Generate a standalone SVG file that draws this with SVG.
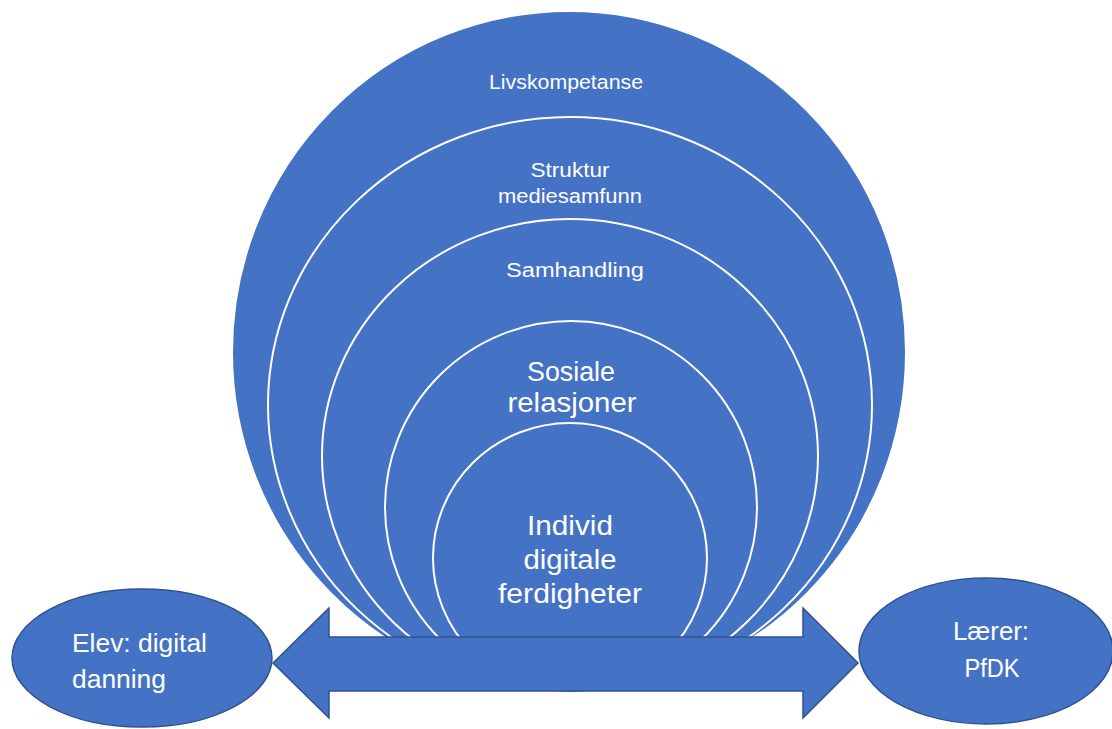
<svg xmlns="http://www.w3.org/2000/svg" width="1112" height="729" viewBox="0 0 1112 729">
<style>
.ring{fill:#4472C4;stroke:#FFFFFF;stroke-width:2}
.shape{fill:#4472C4;stroke:#2F528F;stroke-width:1.5}
.t{font-family:"Liberation Sans",Arial,sans-serif;fill:#FFFFFF;text-anchor:middle}
.s{font-size:20px}
.l{font-size:27px}
.e{font-size:25px}
</style>
<rect width="1112" height="729" fill="#FFFFFF"/>
<g id="ring-livskompetanse">
<ellipse class="ring" cx="569" cy="352" rx="337" ry="341"/>
<text class="t s" x="566" y="89" textLength="154" lengthAdjust="spacingAndGlyphs">Livskompetanse</text>
</g>
<g id="ring-struktur">
<ellipse class="ring" cx="570" cy="405" rx="302" ry="288"/>
<text class="t s" x="570" y="177" textLength="79" lengthAdjust="spacingAndGlyphs">Struktur</text>
<text class="t s" x="570" y="203" textLength="144" lengthAdjust="spacingAndGlyphs">mediesamfunn</text>
</g>
<g id="ring-samhandling">
<ellipse class="ring" cx="570" cy="456" rx="248" ry="237"/>
<text class="t s" x="575" y="277" textLength="138" lengthAdjust="spacingAndGlyphs">Samhandling</text>
</g>
<g id="ring-sosiale">
<ellipse class="ring" cx="571" cy="507" rx="186" ry="186"/>
<text class="t l" x="571" y="381" textLength="88" lengthAdjust="spacingAndGlyphs">Sosiale</text>
<text class="t l" x="572" y="412" textLength="129" lengthAdjust="spacingAndGlyphs">relasjoner</text>
</g>
<g id="ring-individ">
<ellipse class="ring" cx="570" cy="558" rx="137" ry="135"/>
<text class="t l" x="570" y="535" textLength="86" lengthAdjust="spacingAndGlyphs">Individ</text>
<text class="t l" x="570" y="569" textLength="93" lengthAdjust="spacingAndGlyphs">digitale</text>
<text class="t l" x="570" y="603" textLength="144" lengthAdjust="spacingAndGlyphs">ferdigheter</text>
</g>
<g id="connectors">
<polygon class="shape" points="273,663 329,608 329,637 803,637 803,608 858,663 803,718 803,691 329,691 329,718"/>
</g>
<g id="node-elev">
<ellipse class="shape" cx="142" cy="658" rx="130" ry="69"/>
<text class="t e" x="72" y="652" style="text-anchor:start" textLength="135" lengthAdjust="spacingAndGlyphs">Elev: digital</text>
<text class="t e" x="72" y="688" style="text-anchor:start" textLength="94" lengthAdjust="spacingAndGlyphs">danning</text>
</g>
<g id="node-laerer">
<ellipse class="shape" cx="986" cy="651" rx="127" ry="73"/>
<text class="t e" x="991" y="640" textLength="76" lengthAdjust="spacingAndGlyphs">Lærer:</text>
<text class="t e" x="992" y="677" textLength="55" lengthAdjust="spacingAndGlyphs">PfDK</text>
</g>
</svg>
